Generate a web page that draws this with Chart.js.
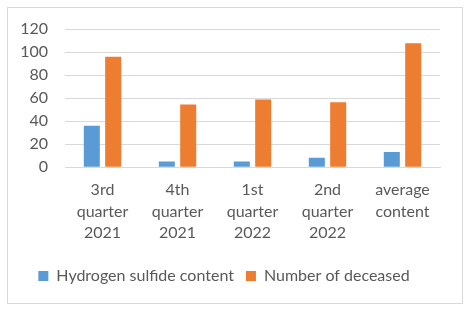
<!DOCTYPE html>
<html>
<head>
<meta charset="utf-8">
<script src="https://cdn.jsdelivr.net/npm/chart.js@4"></script>
<style>
  body { margin: 0; background: #fff; }
  #frame {
    position: absolute; left: 7px; top: 7px;
    width: 454px; height: 295px;
    border: 1px solid #d9d9d9;
  }
  canvas { display: block; }
</style>
</head>
<body>
<div id="frame"><canvas id="chart" width="454" height="295"></canvas></div>
<script>
// Chart data
const categories = [
    ['3rd', 'quarter', '2021'],
    ['4th', 'quarter', '2021'],
    ['1st', 'quarter', '2022'],
    ['2nd', 'quarter', '2022'],
    ['average', 'content']
];
const hydrogenSulfide = [36, 5, 5, 8.3, 13.3];
const deceased = [96, 54.4, 58.8, 56.4, 107.6];
const yTicks = [0, 20, 40, 60, 80, 100, 120];

const textColor = '#595959';
const gridColor = '#d9d9d9';
const font = { family: 'Lato, "Open Sans", sans-serif', size: 16, lineHeight: 1.35 };

const ctx = document.getElementById('chart').getContext('2d');
new Chart(ctx, {
    type: 'bar',
    data: {
        labels: categories,
        datasets: [{
            label: 'Hydrogen sulfide content',
            data: hydrogenSulfide,
            backgroundColor: '#5B9BD5',
            categoryPercentage: 0.57,
            barPercentage: 0.75
        }, {
            label: 'Number of deceased',
            data: deceased,
            backgroundColor: '#ED7D31',
            categoryPercentage: 0.57,
            barPercentage: 0.75
        }]
    },
    options: {
        responsive: false,
        animation: false,
        layout: { padding: { left: 0, right: 22, top: 21, bottom: 9 } },
        plugins: {
            tooltip: { enabled: false },
            legend: {
                position: 'bottom',
                labels: {
                    color: textColor,
                    font: font,
                    boxWidth: 10,
                    boxHeight: 10,
                    padding: 12
                }
            }
        },
        scales: {
            x: {
                grid: { display: false, drawTicks: false },
                border: { display: true, color: gridColor },
                ticks: { color: textColor, font: font, padding: 12, maxRotation: 0 }
            },
            y: {
                min: 0,
                max: 120,
                afterBuildTicks: s => { s.ticks = yTicks.map(v => ({ value: v })); },
                afterFit: s => { s.width = 57; s.paddingTop = 0; s.paddingBottom = 0; },
                grid: { color: gridColor, drawTicks: false },
                border: { display: false },
                ticks: { color: textColor, font: font, padding: 17, autoSkip: false }
            }
        }
    }
});
</script>
</body>
</html>
